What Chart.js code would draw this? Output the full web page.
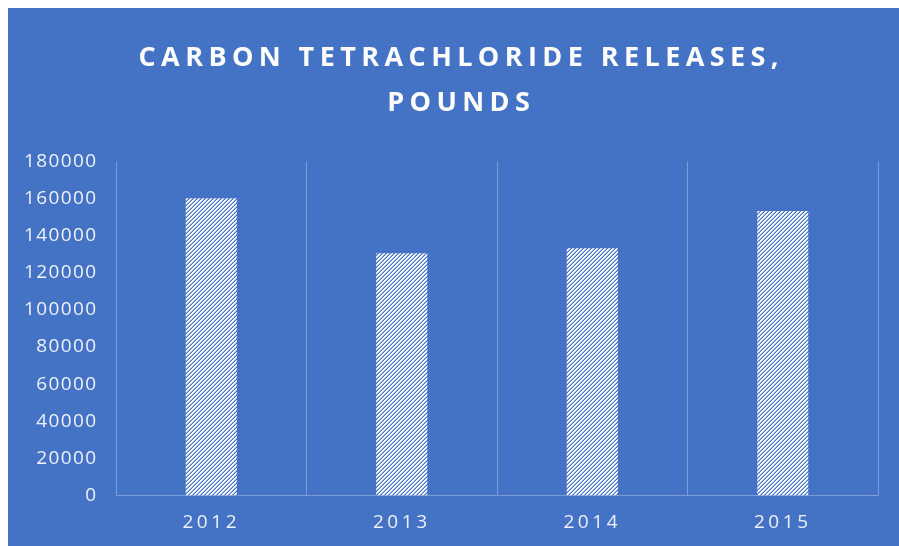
<!DOCTYPE html>
<html>
<head>
<meta charset="utf-8">
<script src="https://cdn.jsdelivr.net/npm/chart.js@4"></script>
<style>
  html, body { margin: 0; padding: 0; background: #ffffff; }
  #wrap { position: absolute; left: 8px; top: 8px; width: 891px; height: 538px; background: #4472C4; }
  canvas { display: block; }
</style>
</head>
<body>
<div id="wrap"><canvas id="c" width="891" height="538"></canvas></div>
<script>
const categories = ['2012', '2013', '2014', '2015'];
const releases = [160200, 130500, 133200, 153300];
const yMin = 0, yMax = 180000, yStep = 20000;
const titleLines = ['CARBON TETRACHLORIDE RELEASES,', 'POUNDS'];

const canvas = document.getElementById('c');
const ctx = canvas.getContext('2d');

function makeHatch() {
  const c = document.createElement('canvas');
  c.width = 4; c.height = 4;
  const g = c.getContext('2d');
  for (let y = 0; y < 4; y++) {
    for (let x = 0; x < 4; x++) {
      const k = (x + y) % 4;
      g.fillStyle = k < 2 ? '#ffffff' : (k === 2 ? '#9ab3e2' : '#4472C4');
      g.fillRect(x, y, 1, 1);
    }
  }
  return ctx.createPattern(c, 'repeat');
}

function fitSpacing(text, font, target) {
  const m = document.createElement('canvas').getContext('2d');
  m.font = font;
  const w = m.measureText(text).width;
  return Math.max(0, (target - w) / (text.length - 1));
}

const titleSize = 27, tickSize = 19;
const titleSpacing = fitSpacing(titleLines[0], "bold " + titleSize + "px 'Open Sans'", 640);
const xSpacing = fitSpacing('2012', tickSize + "px 'Open Sans'", 54);
const ySpacing = fitSpacing('180000', tickSize + "px 'Open Sans'", 72);
const titleShift = 450.5 - 435 + titleSpacing / 2;

function wrapSpacing(obj, method, spacing, dx) {
  if (!obj || obj['__sp_' + method]) return;
  const orig = obj[method];
  obj[method] = function (...args) {
    const c = this.ctx;
    const prev = c.letterSpacing;
    c.save();
    if (dx) c.translate(dx, 0);
    c.letterSpacing = spacing + 'px';
    try { return orig.apply(this, args); }
    finally { c.restore(); c.letterSpacing = prev; }
  };
  obj['__sp_' + method] = true;
}

const spacingPlugin = {
  id: 'spacing',
  afterLayout(chart) {
    wrapSpacing(chart.titleBlock, 'draw', titleSpacing, titleShift);
    wrapSpacing(chart.scales.x, 'drawLabels', xSpacing, 0);
    wrapSpacing(chart.scales.y, 'drawLabels', ySpacing, 0);
  }
};

const gridColor = '#7c9cd5';
const labelColor = '#eef2fa';

new Chart(ctx, {
  type: 'bar',
  data: {
    labels: categories,
    datasets: [{
      data: releases,
      backgroundColor: makeHatch(),
      borderWidth: 0,
      categoryPercentage: 1,
      barPercentage: 0.268
    }]
  },
  options: {
    responsive: false,
    animation: false,
    events: [],
    layout: { padding: { left: 0, right: 21, top: 0, bottom: 0 } },
    plugins: {
      legend: { display: false },
      tooltip: { enabled: false },
      title: {
        display: true,
        text: titleLines,
        color: '#ffffff',
        font: { family: "'Open Sans'", size: titleSize, weight: 'bold', lineHeight: 45 / titleSize },
        padding: { top: 28, bottom: 35.5 }
      }
    },
    scales: {
      x: {
        grid: { display: true, color: gridColor, lineWidth: 1, drawTicks: false, offset: true },
        border: { display: true, color: gridColor, width: 1 },
        ticks: { color: labelColor, font: { family: "'Open Sans'", size: tickSize }, padding: 16, maxRotation: 0 },
        afterFit(s) { s.height = 50.5; }
      },
      y: {
        min: yMin, max: yMax,
        grid: { display: false, drawTicks: false },
        border: { display: false },
        ticks: {
          stepSize: yStep,
          color: labelColor,
          font: { family: "'Open Sans'", size: tickSize },
          padding: 20 - ySpacing,
          callback: (v) => String(v)
        },
        afterFit(s) { s.width = 108; }
      }
    }
  },
  plugins: [spacingPlugin]
});
</script>
</body>
</html>
